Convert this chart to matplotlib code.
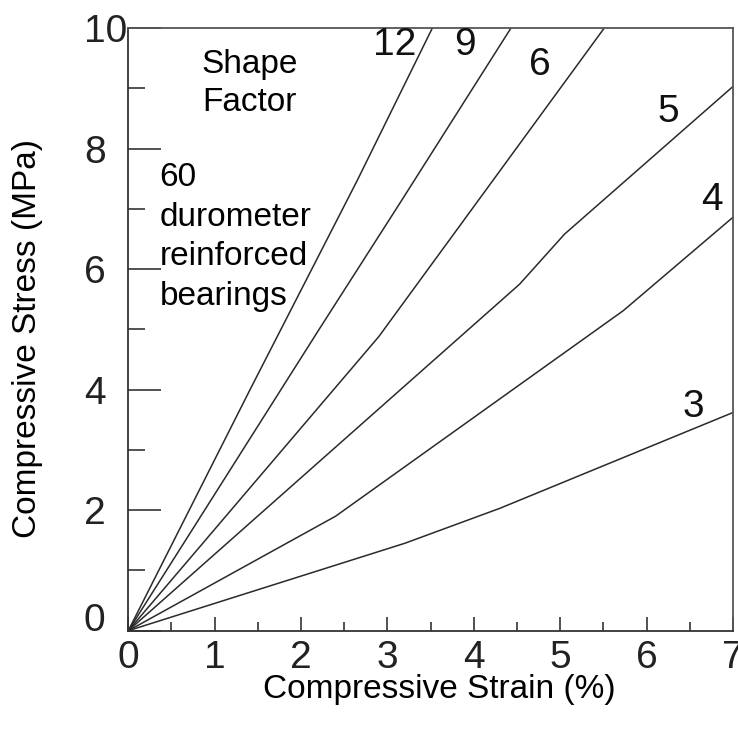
import matplotlib
matplotlib.use("Agg")
import matplotlib.pyplot as plt
from matplotlib.ticker import MultipleLocator

plt.rcParams['font.family'] = ['Liberation Sans', 'DejaVu Sans']

# ---- data ----
shape_factors = ["3", "4", "5", "6", "9", "12"]
strain_sf3 = [0, 3.2, 4.3, 7.0]
stress_sf3 = [0, 1.45, 2.03, 3.62]
strain_sf4 = [0, 2.4, 5.73, 7.0]
stress_sf4 = [0, 1.9, 5.31, 6.86]
strain_sf5 = [0, 4.53, 5.05, 7.0]
stress_sf5 = [0, 5.75, 6.58, 9.03]
strain_sf6 = [0, 2.9, 5.51]
stress_sf6 = [0, 4.88, 10.0]
strain_sf9 = [0, 2.2, 3.16, 4.43]
stress_sf9 = [0, 4.98, 7.13, 10.0]
strain_sf12 = [0, 1.42, 2.65, 3.52]
stress_sf12 = [0, 4.03, 7.47, 10.0]

label_x = [6.54, 6.76, 6.25, 4.76, 3.90, 3.08]
label_y = [3.71, 7.15, 8.61, 9.38, 9.71, 9.71]

x_ticks = [0, 1, 2, 3, 4, 5, 6, 7]
y_ticks = [0, 2, 4, 6, 8, 10]

curves = [(strain_sf3, stress_sf3), (strain_sf4, stress_sf4), (strain_sf5, stress_sf5),
          (strain_sf6, stress_sf6), (strain_sf9, stress_sf9), (strain_sf12, stress_sf12)]

fig = plt.figure(figsize=(7.38, 7.35), dpi=100)
ax = fig.add_axes([128.3 / 738, (735 - 630.7) / 735, (733 - 128.3) / 738, (630.7 - 28) / 735])

line_color = '#2a2a2a'
for (xs, ys), name, lx, ly in zip(curves, shape_factors, label_x, label_y):
    ax.plot(xs, ys, color=line_color, lw=1.1, solid_joinstyle='round')
    ax.text(lx, ly, name, fontsize=28, ha='center', va='center', color='#111111')

ax.set_xlim(0, 7)
ax.set_ylim(0, 10)
ax.set_xticks(x_ticks)
ax.set_yticks(y_ticks)
ax.xaxis.set_minor_locator(MultipleLocator(0.5))
ax.yaxis.set_minor_locator(MultipleLocator(1))

ax.tick_params(axis='x', which='major', direction='in', length=10, width=1.1,
               labelsize=28, pad=7, colors='#222222', top=False)
ax.tick_params(axis='x', which='minor', direction='in', length=6.5, width=1.1,
               colors='#222222', top=False)
ax.tick_params(axis='y', which='major', direction='in', length=24, width=1.1,
               labelsize=28, pad=32, colors='#222222', right=False)
ax.tick_params(axis='y', which='minor', direction='in', length=12.5, width=1.1,
               colors='#222222', right=False)
for lab in ax.get_yticklabels():
    lab.set_horizontalalignment('left')
ax.get_yticklabels()[0].set_verticalalignment('baseline')

for sp in ax.spines.values():
    sp.set_linewidth(1.3)
    sp.set_color('#333333')
ax.spines['top'].set_color('#555555')
ax.spines['right'].set_color('#555555')

ax.set_xlabel("Compressive Strain (%)", fontsize=24, va='center', ha='center')
ax.xaxis.set_label_coords(0.515, -0.098)
ax.set_ylabel("Compressive Stress (MPa)", fontsize=24, va='center', ha='center')
ax.yaxis.set_label_coords(-0.166, 0.484)

# annotations
ax.text(1.40, 9.26, "Shape", fontsize=24, ha='center', va='baseline')
ax.text(1.40, 8.63, "Factor", fontsize=24, ha='center', va='baseline')
note_lines = ["60", "durometer", "reinforced", "bearings"]
note_y = [7.38, 6.72, 6.06, 5.40]
for t, yy in zip(note_lines, note_y):
    ax.text(0.36, yy, t, fontsize=24, ha='left', va='baseline')

fig.savefig("out.png", dpi=100)
